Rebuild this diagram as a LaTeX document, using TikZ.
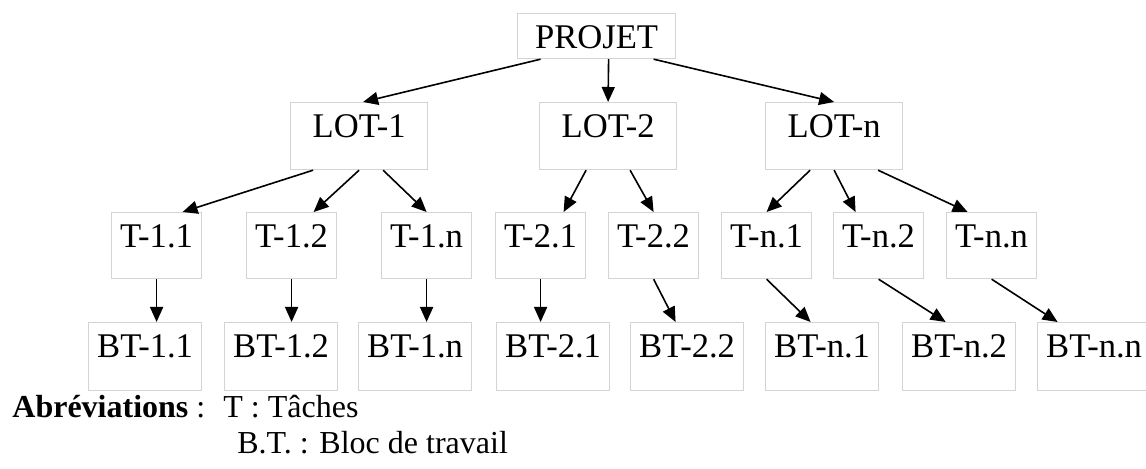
\documentclass[tikz,border=0pt]{standalone}
\usepackage{fontspec}
\setmainfont{Liberation Serif}
\usepackage{xcolor}
\usepackage{tikz}
\usetikzlibrary{arrows.meta}
\definecolor{boxgray}{RGB}{212,212,212}

\begin{document}
\begin{tikzpicture}[x=0.5pt,y=-0.5pt,box/.style={draw=boxgray,line width=0.6pt,anchor=north west,inner sep=0pt,text height=17.5pt,font=\fontsize{17.3}{20}\selectfont},racine/.style={box,minimum width=79pt,text depth=5pt},lot/.style={box,minimum width=68.5pt,text depth=16pt},tache/.style={box,minimum width=45pt,text depth=15.5pt},bloc/.style={box,minimum width=56.5pt,text depth=16.5pt},arr/.style={-{Triangle[length=7.5pt,width=6.5pt]},line width=0.8pt},legende/.style={anchor=base west,inner sep=0pt,font=\fontsize{16}{19}\selectfont}]
\useasboundingbox (0,0) rectangle (1146,469);
\node[racine] (projet) at (517,13) {PROJET};
\node[lot] (lot1) at (290,102) {LOT-1};
\node[lot] (lot2) at (539,102) {LOT-2};
\node[lot] (lotn) at (765,102) {LOT-n};
\node[tache] (t11) at (111,212) {T-1.1};
\node[tache] (t12) at (246,212) {T-1.2};
\node[tache] (t1n) at (381,212) {T-1.n};
\node[tache] (t21) at (495,212) {T-2.1};
\node[tache] (t22) at (608,212) {T-2.2};
\node[tache] (tn1) at (721,212) {T-n.1};
\node[tache] (tn2) at (833,212) {T-n.2};
\node[tache] (tnn) at (946,212) {T-n.n};
\node[bloc] (bt11) at (88,322) {BT-1.1};
\node[bloc] (bt12) at (224,322) {BT-1.2};
\node[bloc] (bt1n) at (358,322) {BT-1.n};
\node[bloc] (bt21) at (496,322) {BT-2.1};
\node[bloc] (bt22) at (630,322) {BT-2.2};
\node[bloc] (btn1) at (765,322) {BT-n.1};
\node[bloc] (btn2) at (902,322) {BT-n.2};
\node[bloc] (btnn) at (1037,322) {BT-n.n};
\node[legende] (abrev) at (12,418) {\textbf{Abréviations} :};
\node[legende] (abrevt) at (223,418) {T : Tâches};
\node[legende] (abrevbt) at (237,454) {B.T. : Bloc de travail};
\draw[arr] ([xshift=-28pt]projet.south) -- ([xshift=2pt]lot1.north);
\draw[arr] ([xshift=6pt]projet.south) -- (lot2.north);
\draw[arr] ([xshift=28.5pt]projet.south) -- (lotn.north);
\draw[arr] ([xshift=-23pt]lot1.south) -- ([xshift=13pt]t11.north);
\draw[arr] (lot1.south) -- ([xshift=11pt]t12.north);
\draw[arr] ([xshift=12pt]lot1.south) -- (t1n.north);
\draw[arr] ([xshift=-11pt]lot2.south) -- ([xshift=11.5pt]t21.north);
\draw[arr] ([xshift=11pt]lot2.south) -- (t22.north);
\draw[arr] ([xshift=-12pt]lotn.south) -- (tn1.north);
\draw[arr] (lotn.south) -- ([xshift=-11.5pt]tn2.north);
\draw[arr] ([xshift=22pt]lotn.south) -- ([xshift=-12pt]tnn.north);
\draw[arr] (t11.south) -- ([xshift=5.75pt]bt11.north);
\draw[arr] (t12.south) -- ([xshift=5.25pt]bt12.north);
\draw[arr] (t1n.south) -- ([xshift=5.75pt]bt1n.north);
\draw[arr] (t21.south) -- ([xshift=-6.25pt]bt21.north);
\draw[arr] (t22.south) -- ([xshift=-5.75pt]bt22.north);
\draw[arr] (tn1.south) -- ([xshift=-5.75pt]btn1.north);
\draw[arr] (tn2.south) -- ([xshift=-6.75pt]btn2.north);
\draw[arr] (tnn.south) -- ([xshift=-18.25pt]btnn.north);
\end{tikzpicture}
\end{document}
